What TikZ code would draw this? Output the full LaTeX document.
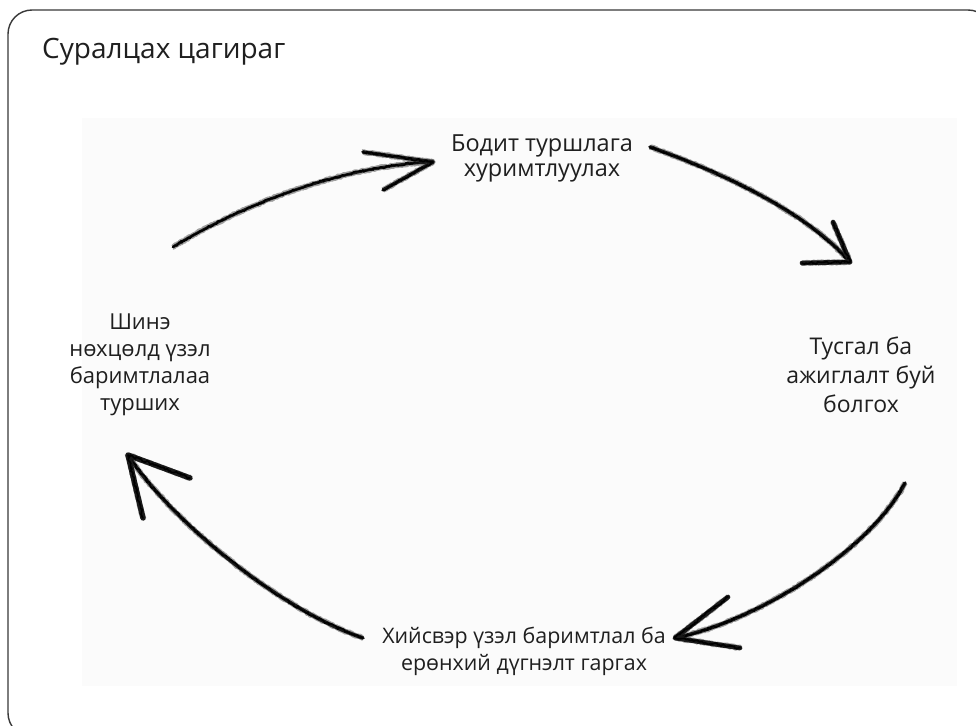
\documentclass[tikz,border=0pt]{standalone}
\usepackage{fontspec}
\setmainfont{Open Sans}
\usetikzlibrary{decorations.pathmorphing}
\begin{document}
\begin{tikzpicture}[x=1pt,y=-1pt,
  lbl/.style={align=center,text=black!88,inner sep=0pt,anchor=base},
  chalk/.style={line width=3.6pt,line cap=round,line join=round,draw=black!90,
    preaction={draw=black!80,line width=5.4pt,opacity=0.45,line join=round,decorate,
      decoration={random steps,segment length=1pt,amplitude=0.7pt}},
    postaction={draw=black,line width=1.6pt,line join=round,decorate,
      decoration={random steps,segment length=1.5pt,amplitude=1.2pt}}},
  chalkhead/.style={chalk,line width=4.6pt},
]
\useasboundingbox (0,0) rectangle (976,725);
% inner panel and outer frame
\fill[black!1.5] (82,118) rectangle (957,686);
\draw[line width=1.4pt,draw=black!78,rounded corners=24pt] (8,10) rectangle (992,737);

% title
\node[anchor=base west,text=black!88,inner sep=0pt,font=\fontsize{28}{32}\selectfont] (title) at (42,59) {Суралцах цагираг};

% stage labels (placed by the baseline of their last line)
\node[lbl,font=\fontsize{23.5}{24.5}\selectfont] (exp) at (542,176) {Бодит туршлага\\хуримтлуулах};
\node[lbl,font=\fontsize{23}{29}\selectfont] (refl) at (861,412) {Тусгал ба\\ажиглалт буй\\болгох};
\node[lbl,font=\fontsize{21.4}{27}\selectfont] (abst) at (524,670) {Хийсвэр үзэл баримтлал ба\\ерөнхий дүгнэлт гаргах};
\node[lbl,font=\fontsize{22}{27}\selectfont] (test) at (140,410) {Шинэ\\нөхцөлд үзэл\\баримтлалаа\\турших};

% arrow end points
\coordinate (a1s) at (173,247); \coordinate (a1t) at (433,162);
\coordinate (a1u) at (363,152); \coordinate (a1l) at (383,190);
\coordinate (a2s) at (650,147); \coordinate (a2t) at (850,262);
\coordinate (a2u) at (833,222); \coordinate (a2l) at (802,263);
\coordinate (a3s) at (905,483); \coordinate (a3t) at (675,638);
\coordinate (a3u) at (728,597); \coordinate (a3l) at (740,648);
\coordinate (a4s) at (363,638); \coordinate (a4t) at (128,455);
\coordinate (a4u) at (190,478); \coordinate (a4l) at (143,518);

% experience -> reflection -> abstraction -> testing
\draw[chalk,line width=2.8pt] (a1s) .. controls (250,200) and (350,165) .. (a1t);
\draw[chalkhead,line width=3.6pt] (a1u) -- (a1t) -- (a1l);

\draw[chalk] (a2s) .. controls (715,170) and (805,210) .. (a2t);
\draw[chalkhead] (a2u) -- (a2t) -- (a2l);

\draw[chalk] (a3s) .. controls (870,550) and (760,620) .. (a3t);
\draw[chalkhead] (a3u) -- (a3t) -- (a3l);

\draw[chalk] (a4s) .. controls (280,610) and (170,520) .. (a4t);
\draw[chalkhead,line width=5.4pt] (a4u) -- (a4t) -- (a4l);
\end{tikzpicture}
\end{document}
